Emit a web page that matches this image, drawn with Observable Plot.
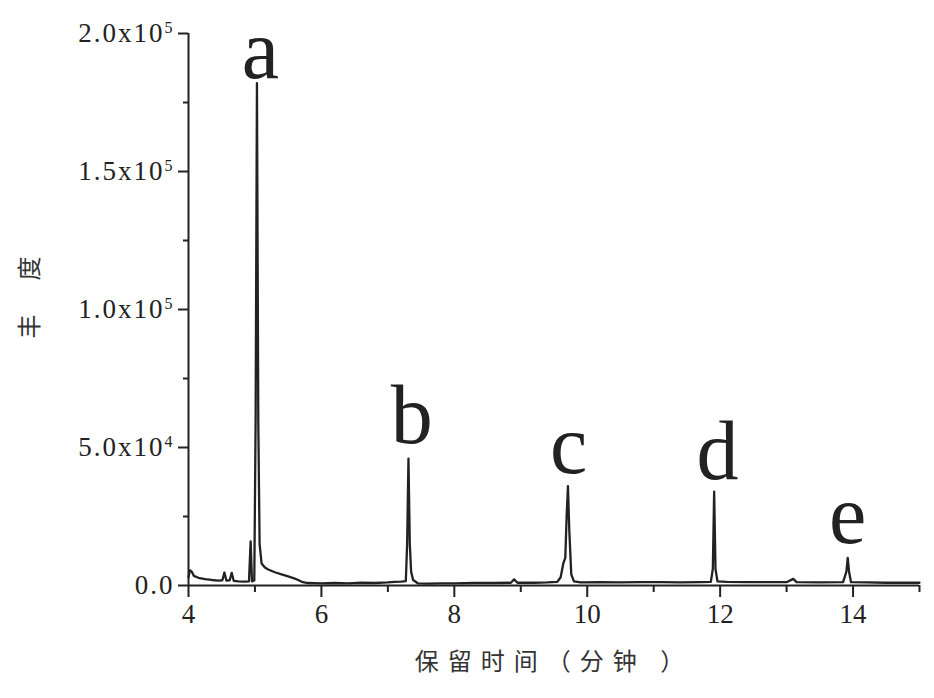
<!DOCTYPE html>
<html>
<head>
<meta charset="utf-8">
<script src="https://cdn.jsdelivr.net/npm/d3@7"></script>
<script src="https://cdn.jsdelivr.net/npm/@observablehq/plot@0.6"></script>
<style>
  html, body { margin: 0; padding: 0; background: #fff; }
  #chart svg { display: block; }
  g[aria-label="y-axis label"] text { font-family: "Noto Sans CJK SC", sans-serif; font-size: 24px; letter-spacing: 5px; fill: #333; }
  g[aria-label="x-axis label"] text { font-family: "Noto Sans CJK SC", sans-serif; font-size: 24px; letter-spacing: 9px; fill: #333; }
  g[aria-label="y-axis tick label"] text { letter-spacing: 2px; }
</style>
</head>
<body>
<div id="chart"></div>
<script>
// Retention time (min) and abundance
const time = [4.00, 4.02, 4.05, 4.08, 4.15, 4.25, 4.35, 4.45, 4.51, 4.54, 4.57, 4.62, 4.65, 4.68, 4.75, 4.85, 4.91, 4.935, 4.955,
  4.99, 5.01, 5.03, 5.05, 5.07, 5.10, 5.15, 5.20, 5.30, 5.40, 5.50, 5.60, 5.65, 5.72, 5.80, 6.00, 6.20, 6.40, 6.60, 6.80, 7.00,
  7.10, 7.20, 7.27, 7.29, 7.31, 7.33, 7.35, 7.38, 7.45, 7.60, 7.80, 8.00, 8.30, 8.60, 8.85, 8.90, 8.95, 9.20, 9.40, 9.55, 9.60,
  9.64, 9.67, 9.69, 9.71, 9.73, 9.76, 9.80, 9.90, 10.20, 10.50, 10.80, 11.10, 11.40, 11.70, 11.86, 11.89, 11.91, 11.93, 11.96,
  12.10, 12.40, 12.70, 13.00, 13.10, 13.15, 13.50, 13.85, 13.90, 13.92, 13.94, 13.97, 14.20, 14.50, 14.80, 15.00];
const abundance = [3000, 5500, 5000, 3500, 2800, 2300, 2000, 1800, 1900, 4700, 1800, 1900, 4600, 1700, 1500, 1400, 1500, 16000, 1500,
  1800, 60000, 182000, 60000, 15000, 8000, 6500, 5800, 4800, 4000, 3300, 2500, 2000, 1200, 900, 800, 900, 800, 1000, 900, 1100,
  1300, 1400, 1600, 15000, 46000, 15000, 5000, 2000, 800, 700, 800, 800, 900, 900, 1000, 2200, 1000, 1000, 1100, 1300, 3000,
  8000, 10000, 25000, 36000, 20000, 4000, 1500, 1100, 1200, 1100, 1200, 1200, 1100, 1200, 1300, 6000, 34000, 6000, 1500,
  1300, 1200, 1200, 1200, 2400, 1200, 1100, 1200, 5000, 10000, 5000, 1200, 1100, 1000, 1000, 1000];

// Peak labels
const peakLabels = ["a", "b", "c", "d", "e"];
const peakLabelTime = [5.08, 7.36, 9.72, 11.96, 13.92];
const peakLabelAbundance = [183700, 51600, 40700, 38500, 15250];

// Axis ticks
const xMajorTicks = [4, 6, 8, 10, 12, 14];
const xMinorTicks = [5, 7, 9, 11, 13, 15];
const yMajorTicks = [0, 50000, 100000, 150000, 200000];
const yMinorTicks = [25000, 75000, 125000, 175000];
const yTickLabels = ["0.0", "5.0x10^4", "1.0x10^5", "1.5x10^5", "2.0x10^5"];

const xTitle = "保留时间（分钟 ）";
const yTitle = "\u3000丰\u3000度";

const series = time.map((t, i) => ({t, v: abundance[i]}));
const labels = peakLabels.map((s, i) => ({s, t: peakLabelTime[i], v: peakLabelAbundance[i]}));

const ink = "#222";

const chart = Plot.plot({
  width: 934,
  height: 698,
  marginLeft: 188,
  marginRight: 15,
  marginTop: 33,
  marginBottom: 113,
  x: {domain: [4, 15]},
  y: {domain: [0, 200000]},
  style: {fontFamily: "'Liberation Serif', 'Times New Roman', serif", fontSize: "27px", color: ink, background: "#fff"},
  marks: [
    Plot.axisX(xMajorTicks, {tickSize: 12, tickPadding: 6, strokeWidth: 2, tickFormat: d => String(d),
      label: xTitle, labelAnchor: "center", labelOffset: 84, labelArrow: "none"}),
    Plot.axisX(xMinorTicks, {tickSize: 7, strokeWidth: 2, tickFormat: () => "", label: null}),
    Plot.axisY(yMajorTicks, {tickSize: 10, tickPadding: 4, strokeWidth: 2,
      tickFormat: d => yTickLabels[yMajorTicks.indexOf(d)],
      label: yTitle, labelAnchor: "center", labelOffset: 168, labelArrow: "none"}),
    Plot.axisY(yMinorTicks, {tickSize: 5, strokeWidth: 2, tickFormat: () => "", label: null}),
    Plot.ruleY([0], {x1: 4, x2: 15, stroke: ink, strokeWidth: 2}),
    Plot.ruleX([4], {y1: 0, y2: 200000, stroke: ink, strokeWidth: 2}),
    Plot.line(series, {x: "t", y: "v", stroke: ink, strokeWidth: 2.3, curve: "linear"}),
    Plot.text(labels, {x: "t", y: "v", text: "s", fontSize: 84, lineAnchor: "bottom", textAnchor: "middle", fill: ink})
  ]
});

// Superscript exponents on y tick labels
d3.select(chart).selectAll('g[aria-label="y-axis tick label"] text').each(function() {
  const txt = this.textContent;
  if (txt.includes("^")) {
    const [base, exp] = txt.split("^");
    const sel = d3.select(this);
    sel.text(base);
    sel.append("tspan").attr("dy", "-0.55em").attr("font-size", "16px").text(exp);
  }
});

document.getElementById("chart").appendChild(chart);
</script>
</body>
</html>
